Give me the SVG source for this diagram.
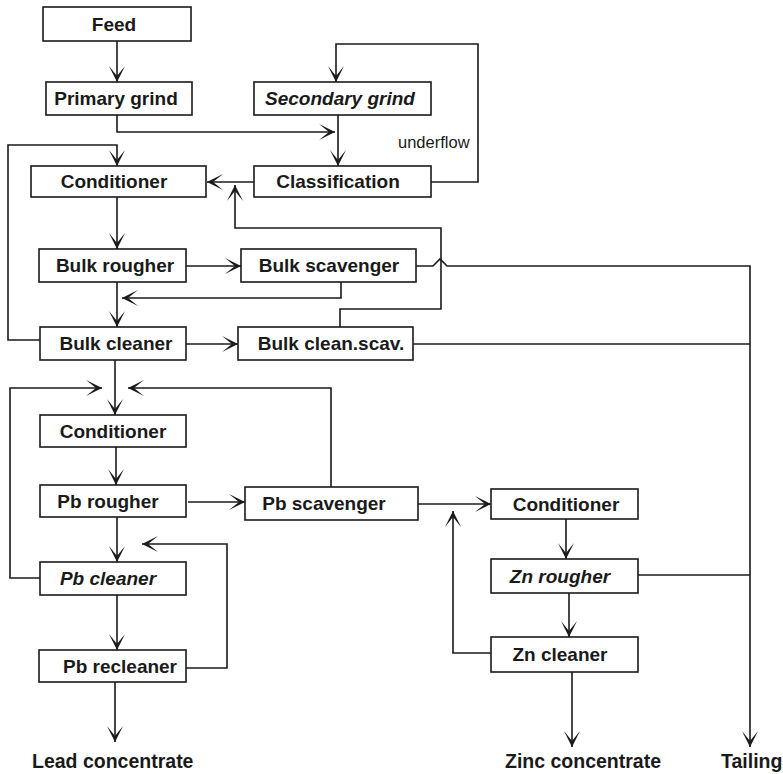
<svg xmlns="http://www.w3.org/2000/svg" width="783" height="774" viewBox="0 0 783 774">
<defs>
<marker id="ah" markerUnits="userSpaceOnUse" orient="auto" markerWidth="20" markerHeight="20" viewBox="-18 -10 20 20" refX="0" refY="0">
<path d="M0,0 L-16,-8 L-6,0 L-16,8 Z" fill="#1a1a1a"/>
</marker>
</defs>
<style>
rect{fill:#fff;stroke:#1a1a1a;stroke-width:1.6}
text{font-family:"Liberation Sans",Arial,sans-serif;font-weight:bold;font-size:19px;fill:#1a1a1a;text-anchor:middle}
.it{font-style:italic}
.lbl{font-size:19.5px;text-anchor:start}
.uf{font-weight:normal;font-size:16.5px;text-anchor:start}
#connectors path{fill:none;stroke:#1a1a1a;stroke-width:1.6}
.a{marker-end:url(#ah)}
</style>
<rect x="0" y="0" width="783" height="774" style="fill:#fff;stroke:none"/>
<g id="connectors">
<path class="a" d="M117,41 V82"/>
<path class="a" d="M117,115 V132 H335"/>
<path class="a" d="M338,115 V166"/>
<path class="a" d="M431,182 H478 V44 H336 V82"/>
<path class="a" d="M254,182 H207"/>
<path class="a" d="M340,327 V309 H441 V228 H235 V185"/>
<path class="a" d="M117,197 V249"/>
<path class="a" d="M186,266 H241"/>
<path class="a" d="M416,266 H433 L440,259 L447,266 H750 V747"/>
<path d="M413,344 H750"/>
<path d="M638,575 H750"/>
<path class="a" d="M341,282 V298 H122"/>
<path class="a" d="M117,282 V327"/>
<path class="a" d="M186,344 H238"/>
<path class="a" d="M40,340 H8 V145 H117 V166"/>
<path class="a" d="M115,360 V415"/>
<path class="a" d="M40,578 H10 V388 H102"/>
<path class="a" d="M331,487 V388 H128"/>
<path class="a" d="M116,447 V485"/>
<path class="a" d="M188,502 H245"/>
<path class="a" d="M418,504 H491"/>
<path class="a" d="M491,653 H453 V511"/>
<path class="a" d="M117,517 V562"/>
<path class="a" d="M186,668 H227 V544 H142"/>
<path class="a" d="M117,595 V650"/>
<path class="a" d="M115,682 V742"/>
<path class="a" d="M566,519 V559"/>
<path class="a" d="M569,593 V637"/>
<path class="a" d="M572,672 V747"/>
</g>
<text class="uf" x="398" y="148">underflow</text>
<g id="feed"><rect x="43" y="7" width="148" height="34"/><text x="114" y="31">Feed</text></g>
<g id="primary-grind"><rect x="46" y="82" width="146" height="33"/><text x="116" y="105">Primary grind</text></g>
<g id="secondary-grind"><rect x="254" y="82" width="177" height="33"/><text class="it" x="340" y="105">Secondary grind</text></g>
<g id="conditioner-1"><rect x="31" y="166" width="175" height="31"/><text x="114" y="188">Conditioner</text></g>
<g id="classification"><rect x="254" y="166" width="177" height="31"/><text x="338" y="188">Classification</text></g>
<g id="bulk-rougher"><rect x="39" y="249" width="147" height="33"/><text x="115" y="272">Bulk rougher</text></g>
<g id="bulk-scavenger"><rect x="241" y="249" width="175" height="33"/><text x="329" y="272">Bulk scavenger</text></g>
<g id="bulk-cleaner"><rect x="40" y="327" width="146" height="33"/><text x="116" y="350">Bulk cleaner</text></g>
<g id="bulk-clean-scav"><rect x="238" y="327" width="175" height="33"/><text x="331" y="350">Bulk clean.scav.</text></g>
<g id="conditioner-2"><rect x="40" y="415" width="146" height="32"/><text x="113" y="438">Conditioner</text></g>
<g id="pb-rougher"><rect x="40" y="485" width="146" height="32"/><text x="108" y="508">Pb rougher</text></g>
<g id="pb-scavenger"><rect x="245" y="487" width="173" height="33"/><text x="324" y="510">Pb scavenger</text></g>
<g id="pb-cleaner"><rect x="40" y="562" width="146" height="33"/><text class="it" x="108" y="585">Pb cleaner</text></g>
<g id="pb-recleaner"><rect x="39" y="650" width="147" height="32"/><text x="120" y="673">Pb recleaner</text></g>
<g id="conditioner-3"><rect x="491" y="489" width="147" height="30"/><text x="566" y="511">Conditioner</text></g>
<g id="zn-rougher"><rect x="491" y="559" width="147" height="34"/><text class="it" x="560" y="583">Zn rougher</text></g>
<g id="zn-cleaner"><rect x="491" y="637" width="147" height="35"/><text x="560" y="661">Zn cleaner</text></g>
<g id="lead-concentrate"><text class="lbl" x="32" y="768">Lead concentrate</text></g>
<g id="zinc-concentrate"><text class="lbl" x="505" y="768">Zinc concentrate</text></g>
<g id="tailing"><text class="lbl" x="721" y="768">Tailing</text></g>
</svg>
